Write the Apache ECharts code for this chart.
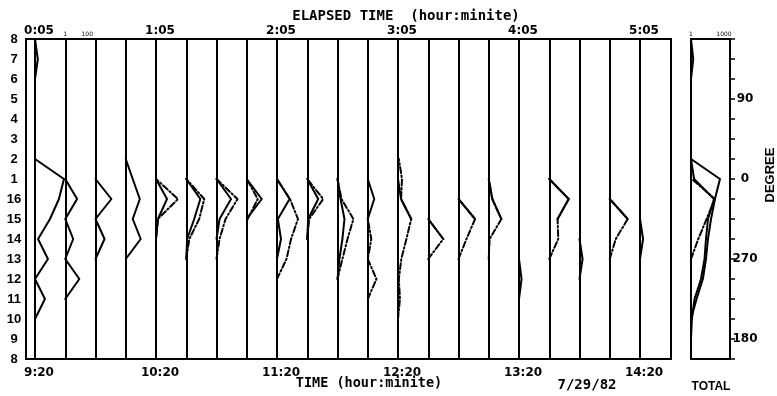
<!DOCTYPE html>
<html><head><meta charset="utf-8">
<script src="https://cdn.jsdelivr.net/npm/echarts@6/dist/echarts.min.js"></script>
<style>html,body{margin:0;padding:0;background:#fff}#c{width:777px;height:396px}</style>
</head><body><div id="c"></div>
<script>
// ---------- DATA ----------
const N = null;
// sector labels, bottom to top (direction sectors)
const sectorLabels = ['8','9','10','11','12','13','14','15','16','1','2','3','4','5','6','7','8'];
const topTimeLabels = ['0:05','1:05','2:05','3:05','4:05','5:05'];
const bottomTimeLabels = ['9:20','10:20','11:20','12:20','13:20','14:20'];
const degreeLabels = ['','180','','','','270','','','','0','','','','90','','',''];
// counts per sector (index = sector position from bottom), solid profiles, one row per 15-min panel
const solidCounts = [
  [1,1,1,8,1,15,1.9,23,150,430,1,1,1,1,1,1.8,1],
  [N,N,N,1,19,1,5.3,1,12,1,N,N,N,N,N,N,N],
  [N,N,N,N,N,1,6.6,1,28,1,N,N,N,N,N,N,N],
  [N,N,N,N,N,1,23,4.3,19,4.3,1,N,N,N,N,N,N],
  [N,N,N,N,N,N,1,1.5,10,1,N,N,N,N,N,N,N],
  [N,N,N,N,N,1,1.2,5.3,19,1,N,N,N,N,N,N,N],
  [N,N,N,N,N,N,1,1.9,21,1,N,N,N,N,N,N,N],
  [N,N,N,N,N,N,N,1,23,1,N,N,N,N,N,N,N],
  [N,N,N,N,N,1,2.3,1.2,14,1,N,N,N,N,N,N,N],
  [N,N,N,N,N,N,1,1.2,10,1,N,N,N,N,N,N,N],
  [N,N,N,N,1,1.5,2.8,4.3,1.9,1,N,N,N,N,N,N,N],
  [N,N,N,N,N,N,N,1,3.9,1,N,N,N,N,N,N,N],
  [N,N,N,N,N,N,N,16,1.9,1,N,N,N,N,N,N,N],
  [N,N,N,N,N,N,23,1,N,N,N,N,N,N,N,N,N],
  [N,N,N,N,N,N,N,32,1,N,N,N,N,N,N,N,N],
  [N,N,N,N,N,N,N,14,2.1,1,N,N,N,N,N,N,N],
  [N,N,N,1,1.7,1,N,N,N,N,N,N,N,N,N,N,N],
  [N,N,N,N,N,N,N,5.7,59,1,N,N,N,N,N,N,N],
  [N,N,N,N,1,1.9,1,N,N,N,N,N,N,N,N,N,N],
  [N,N,N,N,N,N,N,43,1,N,N,N,N,N,N,N,N],
  [N,N,N,N,N,1,1.9,1,N,N,N,N,N,N,N,N,N]
];
// dash-dot profiles
const dashCounts = [
  [],
  [],
  [],
  [],
  [N,N,N,N,N,N,1,1.5,100,1,N,N,N,N,N,N,N],
  [N,N,N,N,N,1,1.9,15,43,1,N,N,N,N,N,N,N],
  [N,N,N,N,N,1,1.9,6.6,81,1,N,N,N,N,N,N,N],
  [N,N,N,N,N,N,N,1.2,10,1,N,N,N,N,N,N,N],
  [N,N,N,N,1,7.3,19,81,15,1,N,N,N,N,N,N,N],
  [N,N,N,N,N,N,1,1.5,28,1,N,N,N,N,N,N,N],
  [N,N,N,N,1,2.8,8.1,28,2.3,1,N,N,N,N,N,N,N],
  [N,N,N,1,6.2,1,2.1,1,N,N,N,N,N,N,N,N,N],
  [N,N,1,1.5,1.2,2,5.8,16,1.9,2.3,1.2,N,N,N,N,N,N],
  [N,N,N,N,N,1,23,1,N,N,N,N,N,N,N,N,N],
  [N,N,N,N,N,1,5.3,32,1,N,N,N,N,N,N,N,N],
  [N,N,N,N,N,1,1.2,14,2.1,1,N,N,N,N,N,N,N],
  [],
  [N,N,N,N,N,1,6.6,5.7,59,1,N,N,N,N,N,N,N],
  [],
  [N,N,N,N,N,1,3.5,43,1,N,N,N,N,N,N,N,N],
  []
];
// TOTAL panel profiles
const totalSolidA = [N,N,1,3.2,12,23,35,66,150,430,1,1,1,1,1,1.6,1];
const totalSolidB = [N,1,1.2,2.1,8.1,17,23,35,123,1.9,1,N,N,N,N,N,N];
const totalDash   = [N,N,N,N,N,1,4.6,26,150,1.2,N,N,N,N,N,N,N];

// ---------- LAYOUT ----------
const PLOT_TOP = 39, PLOT_H = 320;
const FRAME_LEFT = 26, FRAME_W = 645;
const PANEL_LEFT0 = 35, PANEL_STEP = 30.25, PX_PER_DECADE = 11;
const TOTAL_LEFT = 691, TOTAL_W = 39;

const grids = [], xAxes = [], yAxes = [], series = [];
const noAxis = {axisLine:{show:false}, axisTick:{show:false}, splitLine:{show:false}};
const tickFont = {color:'#000', fontFamily:'DejaVu Sans', fontWeight:'bold', fontSize:12};

// frame grid with sector axis
grids.push({left:FRAME_LEFT, top:PLOT_TOP, width:FRAME_W, height:PLOT_H, show:true, borderColor:'#000', borderWidth:2, backgroundColor:'transparent'});
xAxes.push(Object.assign({gridIndex:0, type:'value', min:0, max:1, axisLabel:{show:false}}, noAxis));
yAxes.push(Object.assign({gridIndex:0, type:'value', min:0, max:16, interval:1,
  axisLabel:{margin:12, align:'center', color:'#000', fontFamily:'Liberation Sans', fontWeight:'bold', fontSize:13,
    formatter:v=>sectorLabels[Math.round(v)] || ''}}, noAxis));

// time axes grid (minutes since first profile)
grids.push({left:PANEL_LEFT0+4, top:PLOT_TOP, width:PANEL_STEP*20, height:PLOT_H, show:false});
xAxes.push(Object.assign({gridIndex:1, type:'value', position:'top', min:0, max:300, interval:60,
  axisLabel:Object.assign({margin:2, formatter:v=>topTimeLabels[Math.round(v/60)] || ''}, tickFont)}, noAxis));
xAxes.push(Object.assign({gridIndex:1, type:'value', position:'bottom', min:0, max:300, interval:60,
  axisLabel:Object.assign({margin:8, formatter:v=>bottomTimeLabels[Math.round(v/60)] || ''}, tickFont)}, noAxis));
yAxes.push(Object.assign({gridIndex:1, type:'value', min:0, max:16, axisLabel:{show:false}}, noAxis));

function pts(row){ const out=[]; (row||[]).forEach((v,k)=>{ if(v!=null) out.push([v,k]); }); return out; }
const DASH = [6,2.5,1.5,2.5];
function addLine(xi, yi, row, dashed){
  const d = pts(row);
  if (!d.length) return;
  series.push({type:'line', xAxisIndex:xi, yAxisIndex:yi, data:d, symbol:'none', showSymbol:false,
    clip:false, silent:true, animation:false, z: dashed?2:3,
    lineStyle:{color:'#000', width:2, type: dashed?DASH:'solid', cap:'round', join:'round'}});
}

for (let i=0;i<21;i++){
  const g = grids.length;
  grids.push({left:PANEL_LEFT0 + i*PANEL_STEP, top:PLOT_TOP, width:PANEL_STEP, height:PLOT_H, show:false});
  const xi = xAxes.length;
  xAxes.push({gridIndex:g, type:'log', logBase:10, min:1, max:Math.pow(10, PANEL_STEP/PX_PER_DECADE), position:'top',
    axisLine:{show:false, onZero:false}, axisTick:{show:false}, splitLine:{show:false},
    axisLabel:{show:i===1, margin:2, fontSize:6, color:'#000', fontFamily:'DejaVu Sans',
      formatter:v=>{const e=Math.round(Math.log10(v)); return e===0?'1':(e===2?'100':'');}}});
  const yi = yAxes.length;
  yAxes.push({gridIndex:g, type:'value', min:0, max:16, axisLine:{show:true, onZero:false, lineStyle:{color:'#000', width:2}},
    axisTick:{show:false}, axisLabel:{show:false}, splitLine:{show:false}});
  addLine(xi, yi, dashCounts[i], true);
  addLine(xi, yi, solidCounts[i], false);
}

// TOTAL panel
{
  const g = grids.length;
  grids.push({left:TOTAL_LEFT, top:PLOT_TOP, width:TOTAL_W, height:PLOT_H, show:true, borderColor:'#000', borderWidth:2, backgroundColor:'transparent'});
  const xi = xAxes.length;
  xAxes.push({gridIndex:g, type:'log', logBase:10, min:1, max:Math.pow(10, TOTAL_W/PX_PER_DECADE), position:'top',
    axisLine:{show:false, onZero:false}, axisTick:{show:false}, splitLine:{show:false},
    axisLabel:{margin:2, fontSize:6, color:'#000', fontFamily:'DejaVu Sans',
      formatter:v=>{const e=Math.round(Math.log10(v)); return e===0?'1':(e===3?'1000':'');}}});
  const yi = yAxes.length;
  yAxes.push({gridIndex:g, type:'value', position:'right', min:0, max:16, interval:1,
    axisLine:{show:true, onZero:false, lineStyle:{color:'#000', width:2}},
    axisTick:{show:true, inside:false, length:5, lineStyle:{color:'#000', width:1.5}},
    splitLine:{show:false},
    axisLabel:Object.assign({margin:15, align:'center', formatter:v=>degreeLabels[Math.round(v)] || ''}, tickFont)});
  addLine(xi, yi, totalDash, true);
  addLine(xi, yi, totalSolidA, false);
  addLine(xi, yi, totalSolidB, false);
}

function txt(text, x, y, font, rot){
  return {type:'text', x:x, y:y, rotation:rot||0, silent:true,
    style:{text:text, font:font, fill:'#000', align:'center', verticalAlign:'middle'}};
}
const graphic = [
  txt('ELAPSED TIME  (hour:minite)', 406, 16, 'bold 14px "DejaVu Sans Mono"'),
  txt('TIME (hour:minite)', 369, 383, 'bold 13.5px "DejaVu Sans Mono"'),
  txt('7/29/82', 587, 385, 'bold 14px "DejaVu Sans Mono"'),
  txt('TOTAL', 711, 387, 'bold 12px "Liberation Sans"'),
  txt('DEGREE', 770, 175, 'bold 13px "Liberation Sans"', Math.PI/2)
];

const chart = echarts.init(document.getElementById('c'), null, {renderer:'canvas'});
chart.setOption({animation:false, backgroundColor:'#fff', grid:grids, xAxis:xAxes, yAxis:yAxes, series:series, graphic:graphic});
</script></body></html>
